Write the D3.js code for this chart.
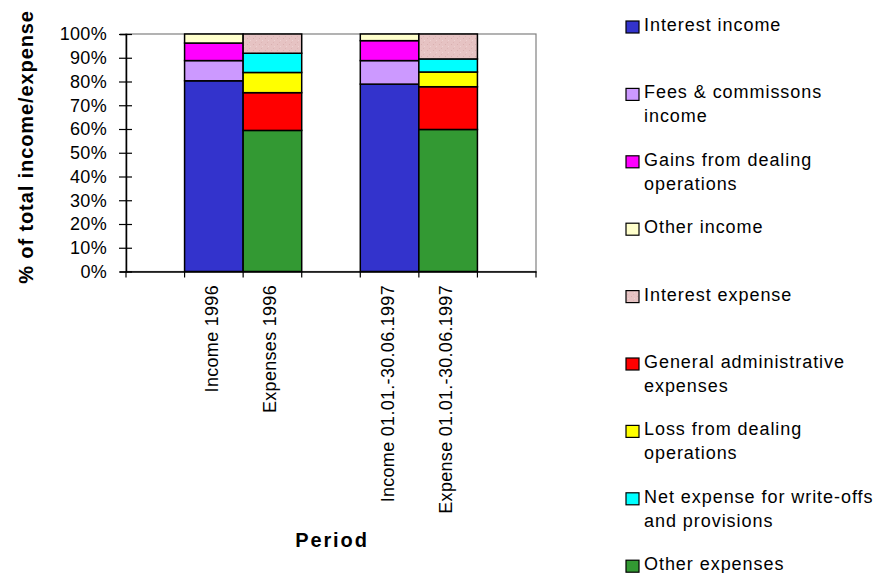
<!DOCTYPE html>
<html>
<head>
<meta charset="utf-8">
<script src="https://cdn.jsdelivr.net/npm/d3@7"></script>
<style>
  html, body { margin: 0; padding: 0; background: #fff; }
  svg { display: block; font-family: "Liberation Sans", Arial, sans-serif; }
</style>
</head>
<body>
<svg id="chart" width="875" height="573"></svg>
<script>
// ---- Data ----
const categories = ["Income 1996", "Expenses 1996", "Income 01.01.-30.06.1997", "Expense 01.01.-30.06.1997"];
const slots = ["gap0", categories[0], categories[1], "gap1", categories[2], categories[3], "gap2"];

const interestIncome  = [80.3, 0, 78.9, 0];
const feesIncome      = [8.5, 0, 9.9, 0];
const gainsDealing    = [7.4, 0, 8.4, 0];
const otherIncome     = [3.8, 0, 2.8, 0];
const otherExpenses   = [0, 59.4, 0, 59.8];
const generalAdmin    = [0, 15.9, 0, 18.0];
const lossDealing     = [0, 8.5, 0, 6.2];
const netWriteOffs    = [0, 8.1, 0, 5.5];
const interestExpense = [0, 8.1, 0, 10.5];

const yTicks = [0, 10, 20, 30, 40, 50, 60, 70, 80, 90, 100];

// series in stacking order (bottom -> top)
const series = [
  { key: "Interest income", values: interestIncome, color: "#3333CC" },
  { key: "Fees & commissons income", values: feesIncome, color: "#CC99FF" },
  { key: "Gains from dealing operations", values: gainsDealing, color: "#FF00FF" },
  { key: "Other income", values: otherIncome, color: "#FFFFCC" },
  { key: "Other expenses", values: otherExpenses, color: "#339933" },
  { key: "General administrative expenses", values: generalAdmin, color: "#FF0000" },
  { key: "Loss from dealing operations", values: lossDealing, color: "#FFFF00" },
  { key: "Net expense for write-offs and provisions", values: netWriteOffs, color: "#00FFFF" },
  { key: "Interest expense", values: interestExpense, color: "#E6C3C3" }
];

// legend order with line breaks
const legendItems = [
  { key: "Interest income", lines: ["Interest income"] },
  { key: "Fees & commissons income", lines: ["Fees & commissons", "income"] },
  { key: "Gains from dealing operations", lines: ["Gains from dealing", "operations"] },
  { key: "Other income", lines: ["Other income"] },
  { key: "Interest expense", lines: ["Interest expense"] },
  { key: "General administrative expenses", lines: ["General administrative", "expenses"] },
  { key: "Loss from dealing operations", lines: ["Loss from dealing", "operations"] },
  { key: "Net expense for write-offs and provisions", lines: ["Net expense for write-offs", "and provisions"] },
  { key: "Other expenses", lines: ["Other expenses"] }
];

// ---- Build table ----
const table = categories.map((c, i) => {
  const row = { category: c };
  series.forEach(s => row[s.key] = s.values[i]);
  return row;
});
const colorOf = {};
series.forEach(s => colorOf[s.key] = s.color);

const stacked = d3.stack().keys(series.map(s => s.key))(table);

// ---- Layout ----
const svg = d3.select("#chart");
const pLeft = 126, pRight = 536, pTop = 34, pBottom = 271.5;

const x = d3.scaleBand().domain(slots).range([pLeft, pRight]).paddingInner(0).paddingOuter(0);
const y = d3.scaleLinear().domain([0, 100]).range([pBottom, pTop]);

// texture pattern for interest expense
const defs = svg.append("defs");
const pat = defs.append("pattern").attr("id", "pinkTex").attr("patternUnits", "userSpaceOnUse")
  .attr("width", 6).attr("height", 6);
pat.append("rect").attr("width", 6).attr("height", 6).attr("fill", "#E6C3C3");
pat.append("rect").attr("x", 1).attr("y", 2).attr("width", 1).attr("height", 1).attr("fill", "#D9B0B0");
pat.append("rect").attr("x", 4).attr("y", 4).attr("width", 1).attr("height", 1).attr("fill", "#EED3D3");
pat.append("rect").attr("x", 3).attr("y", 0).attr("width", 1).attr("height", 1).attr("fill", "#DDB6B6");

const fillOf = k => k === "Interest expense" ? "url(#pinkTex)" : colorOf[k];

// plot border (gray)
svg.append("rect").attr("x", pLeft).attr("y", pTop).attr("width", pRight - pLeft).attr("height", pBottom - pTop)
  .attr("fill", "none").attr("stroke", "#808080").attr("stroke-width", 1.2);

// bars
const g = svg.append("g");
stacked.forEach(layer => {
  g.selectAll(null).data(layer.filter(d => d[1] - d[0] > 0)).enter().append("rect")
    .attr("x", d => x(d.data.category))
    .attr("width", x.bandwidth())
    .attr("y", d => y(d[1]))
    .attr("height", d => y(d[0]) - y(d[1]))
    .attr("fill", fillOf(layer.key))
    .attr("stroke", "#000")
    .attr("stroke-width", 1.5);
});

// y axis
const yAxis = svg.append("g").attr("transform", `translate(${pLeft},0)`)
  .call(d3.axisLeft(y).tickValues(yTicks).tickFormat(d => d + "%").tickSize(6).tickPadding(13));
yAxis.select(".domain").attr("stroke", "#000").attr("stroke-width", 1.5);
yAxis.selectAll(".tick line").attr("x1", 6).attr("x2", -7).attr("stroke", "#000").attr("stroke-width", 1.2);
yAxis.selectAll(".tick text").attr("font-size", 18).attr("letter-spacing", 0.3).attr("fill", "#000")
  .attr("font-family", "Liberation Sans, Arial, sans-serif");

// x axis
const xAxis = svg.append("g").attr("transform", `translate(0,${pBottom})`)
  .call(d3.axisBottom(x).tickSize(0).tickFormat(""));
xAxis.select(".domain").attr("stroke", "#000").attr("stroke-width", 1.5);
xAxis.selectAll(".tick").remove();
const boundaries = slots.map(s => x(s)).concat([pRight]);
xAxis.selectAll("line.bt").data(boundaries).enter().append("line")
  .attr("x1", d => d).attr("x2", d => d).attr("y1", 0).attr("y2", 6)
  .attr("stroke", "#000").attr("stroke-width", 1.2);

// x category labels (rotated)
svg.selectAll("text.xl").data(categories).enter().append("text")
  .attr("transform", d => `translate(${x(d) + x.bandwidth() / 2 + 4},285) rotate(-90)`)
  .attr("text-anchor", "end")
  .attr("font-size", 18).attr("letter-spacing", 0.3).attr("fill", "#000")
  .text(d => d);

// axis titles
svg.append("text").attr("transform", "translate(33,147) rotate(-90)")
  .attr("text-anchor", "middle").attr("font-size", 20).attr("font-weight", "bold")
  .attr("letter-spacing", 0.9).attr("fill", "#000").text("% of total income/expense");
svg.append("text").attr("x", 332).attr("y", 547)
  .attr("text-anchor", "middle").attr("font-size", 20).attr("font-weight", "bold")
  .attr("letter-spacing", 1.9).attr("fill", "#000").text("Period");

// legend
const legendBase = 31, legendStep = 67.4, lineH = 24;
const lg = svg.append("g");
legendItems.forEach((it, i) => {
  const by = legendBase + i * legendStep;
  lg.append("rect").attr("x", 626).attr("y", by - 10).attr("width", 13).attr("height", 12)
    .attr("fill", fillOf(it.key)).attr("stroke", "#000").attr("stroke-width", 1.2);
  it.lines.forEach((ln, j) => {
    lg.append("text").attr("x", 644).attr("y", by + j * lineH)
      .attr("font-size", 18).attr("letter-spacing", 0.95).attr("fill", "#000").text(ln);
  });
});
</script>
</body>
</html>
